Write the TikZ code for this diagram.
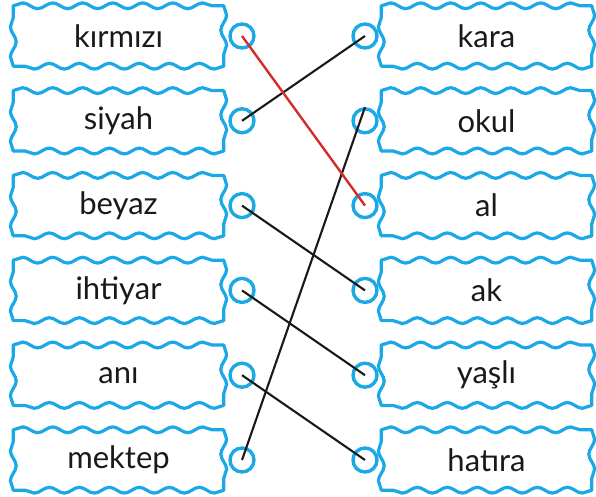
\documentclass[tikz,border=0pt]{standalone}
\usepackage{fontspec}
\setmainfont{Lato}
\usetikzlibrary{positioning,decorations.pathmorphing}

\definecolor{wavyblue}{RGB}{27,168,230}
\definecolor{linered}{RGB}{212,43,43}

\tikzset{
    wavy/.style={draw=wavyblue,line width=3.2pt,line cap=round,decorate,
        decoration={snake,amplitude=2.9pt,segment length=30pt}},
    word/.style={minimum width=210pt,minimum height=60pt,inner sep=0pt,
        font=\fontsize{31}{34}\selectfont,text=black!90,
        append after command={\pgfextra{
            \draw[wavy] (\tikzlastnode.north west) -- (\tikzlastnode.north east);
            \draw[wavy] (\tikzlastnode.north east) -- (\tikzlastnode.south east);
            \draw[wavy] (\tikzlastnode.south east) -- (\tikzlastnode.south west);
            \draw[wavy] (\tikzlastnode.south west) -- (\tikzlastnode.north west);
        }}},
    dot/.style={circle,draw=wavyblue,line width=3.4pt,minimum size=24pt,inner sep=0pt},
    link/.style={line width=2.1pt,black!90}
}

\begin{document}
\begin{tikzpicture}[node distance=84.8pt,on grid]
    \useasboundingbox (0,0) rectangle (596pt,-497pt);

    \node[word] (l_1) at (118.5pt,-36pt) {kırmızı};
    \node[word] [below=of l_1] (l_2) {siyah};
    \node[word] [below=of l_2] (l_3) {beyaz};
    \node[word] [below=of l_3] (l_4) {ihtiyar};
    \node[word] [below=of l_4] (l_5) {anı};
    \node[word] [below=of l_5] (l_6) {mektep};

    \node[word] (r_1) at (486.5pt,-36pt) {kara};
    \node[word] [below=of r_1] (r_2) {okul};
    \node[word] [below=of r_2] (r_3) {al};
    \node[word] [below=of r_3] (r_4) {ak};
    \node[word] [below=of r_4] (r_5) {yaşlı};
    \node[word] [below=of r_5] (r_6) {hatıra};

    \node[dot] [right=123.5pt of l_1] (lc_1) {};
    \node[dot] [right=123.5pt of l_2] (lc_2) {};
    \node[dot] [right=123.5pt of l_3] (lc_3) {};
    \node[dot] [right=123.5pt of l_4] (lc_4) {};
    \node[dot] [right=123.5pt of l_5] (lc_5) {};
    \node[dot] [right=123.5pt of l_6] (lc_6) {};

    \node[dot] [left=121.5pt of r_1] (rc_1) {};
    \node[dot] [left=121.5pt of r_2] (rc_2) {};
    \node[dot] [left=121.5pt of r_3] (rc_3) {};
    \node[dot] [left=121.5pt of r_4] (rc_4) {};
    \node[dot] [left=121.5pt of r_5] (rc_5) {};
    \node[dot] [left=121.5pt of r_6] (rc_6) {};

    \path[link]
    (lc_2.center) edge (rc_1.center)
    (lc_3.center) edge (rc_4.center)
    (lc_4.center) edge (rc_5.center)
    (lc_5.center) edge (rc_6.center)
    (lc_6.center) edge (rc_2.north)
    ;
    \draw[link,linered,line width=2.4pt] (lc_1.center) -- (rc_3.center);
\end{tikzpicture}
\end{document}
